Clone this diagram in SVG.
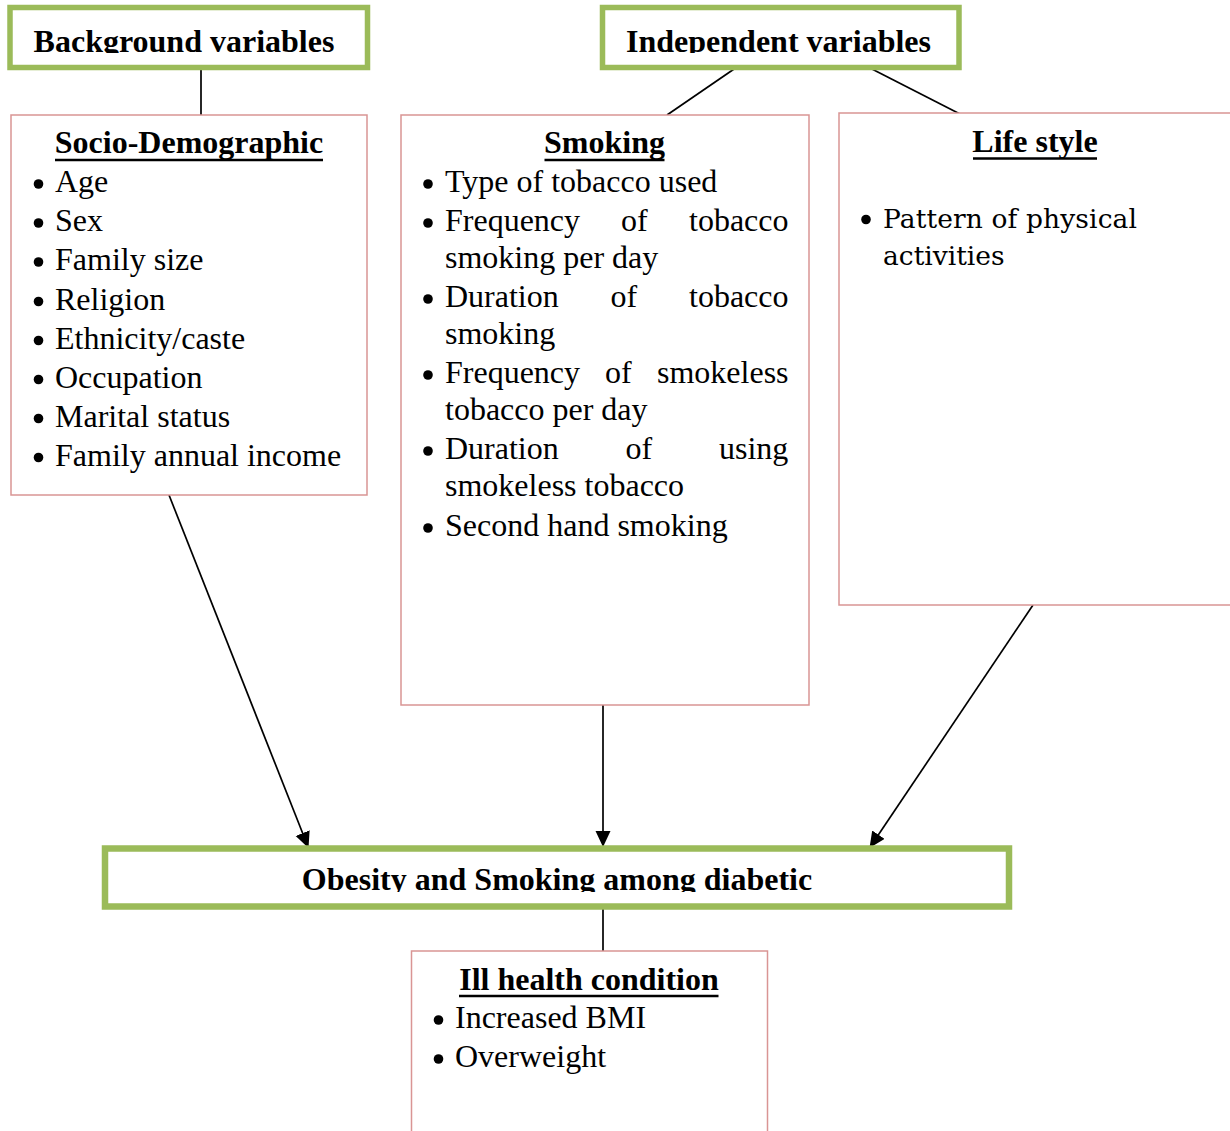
<svg xmlns="http://www.w3.org/2000/svg" width="1230" height="1131" viewBox="0 0 1230 1131">
<style>
.gbox{fill:#fff;stroke:#9bbb59;stroke-width:5.5}
.pbox{fill:#fff;stroke:#d99594;stroke-width:1.5}
.hd{font-family:"Liberation Serif","Times New Roman",serif;font-weight:bold;font-size:32px;fill:#000}
.tx{font-family:"Liberation Serif","Times New Roman",serif;font-size:32px;fill:#000}
.cb{font-family:"DejaVu Serif",serif;font-size:26.5px;fill:#000}
.ul{stroke:#000;stroke-width:2.5}
.bl{fill:#000}
.cn{stroke:#000;stroke-width:1.7;fill:none}
</style>
<defs>
<marker id="ah" markerUnits="userSpaceOnUse" markerWidth="18" markerHeight="18" refX="16" refY="7.5" orient="auto">
<path d="M0,0 L16,7.5 L0,15 z" fill="#000"/>
</marker>
<clipPath id="c1"><rect x="0" y="0" width="1230" height="53"/></clipPath>
<clipPath id="c2"><rect x="0" y="800" width="1230" height="92"/></clipPath>
</defs>

<g id="connectors">
<line class="cn" x1="201" y1="70" x2="201" y2="115"/>
<line class="cn" x1="737" y1="67" x2="667" y2="115"/>
<line class="cn" x1="868" y1="67" x2="960" y2="114"/>
<line class="cn" x1="169" y1="495" x2="308.5" y2="848" marker-end="url(#ah)"/>
<line class="cn" x1="603" y1="705" x2="603" y2="847" marker-end="url(#ah)"/>
<line class="cn" x1="1033" y1="605" x2="869.5" y2="848" marker-end="url(#ah)"/>
<line class="cn" x1="603" y1="909" x2="603" y2="951"/>
</g>

<g id="background">
<rect class="gbox" x="10" y="7.5" width="357.5" height="60"/>
<text class="hd" x="184" y="52" text-anchor="middle" clip-path="url(#c1)">Background variables</text>
</g>

<g id="independent">
<rect class="gbox" x="602.5" y="7.5" width="356.5" height="60"/>
<text class="hd" x="778.5" y="52" text-anchor="middle" clip-path="url(#c1)">Independent variables</text>
</g>

<g id="socio">
<rect class="pbox" x="11" y="115" width="356" height="380"/>
<text class="hd" x="189" y="153" text-anchor="middle">Socio-Demographic</text>
<line class="ul" x1="55" y1="160" x2="323" y2="160"/>
<g class="bl">
<circle cx="38.5" cy="184" r="4.8"/><circle cx="38.5" cy="223" r="4.8"/><circle cx="38.5" cy="262" r="4.8"/><circle cx="38.5" cy="301.5" r="4.8"/>
<circle cx="38.5" cy="340.5" r="4.8"/><circle cx="38.5" cy="379.5" r="4.8"/><circle cx="38.5" cy="418.5" r="4.8"/><circle cx="38.5" cy="457.5" r="4.8"/>
</g>
<text class="tx" x="55" y="192">Age</text>
<text class="tx" x="55" y="231">Sex</text>
<text class="tx" x="55" y="270">Family size</text>
<text class="tx" x="55" y="309.5">Religion</text>
<text class="tx" x="55" y="348.5">Ethnicity/caste</text>
<text class="tx" x="55" y="387.5">Occupation</text>
<text class="tx" x="55" y="426.5">Marital status</text>
<text class="tx" x="55" y="465.5">Family annual income</text>
</g>

<g id="smoking">
<rect class="pbox" x="401" y="115" width="408" height="590"/>
<text class="hd" x="604.5" y="153" text-anchor="middle">Smoking</text>
<line class="ul" x1="544.5" y1="160" x2="664.5" y2="160"/>
<g class="bl">
<circle cx="428" cy="184" r="4.8"/><circle cx="428" cy="223" r="4.8"/><circle cx="428" cy="299" r="4.8"/>
<circle cx="428" cy="375" r="4.8"/><circle cx="428" cy="451" r="4.8"/><circle cx="428" cy="528" r="4.8"/>
</g>
<text class="tx" x="445" y="192">Type of tobacco used</text>
<text class="tx" y="231"><tspan x="445">Frequency</tspan><tspan x="621">of</tspan><tspan x="689">tobacco</tspan></text>
<text class="tx" x="445" y="268">smoking per day</text>
<text class="tx" y="307"><tspan x="445">Duration</tspan><tspan x="610.5">of</tspan><tspan x="689">tobacco</tspan></text>
<text class="tx" x="445" y="344">smoking</text>
<text class="tx" y="383"><tspan x="445">Frequency</tspan><tspan x="605">of</tspan><tspan x="657">smokeless</tspan></text>
<text class="tx" x="445" y="420">tobacco per day</text>
<text class="tx" y="459"><tspan x="445">Duration</tspan><tspan x="625.5">of</tspan><tspan x="719">using</tspan></text>
<text class="tx" x="445" y="496">smokeless tobacco</text>
<text class="tx" x="445" y="536">Second hand smoking</text>
</g>

<g id="lifestyle">
<rect class="pbox" x="839" y="113" width="400" height="492"/>
<text class="hd" x="1035" y="152" text-anchor="middle">Life style</text>
<line class="ul" x1="973" y1="158.5" x2="1097" y2="158.5"/>
<circle class="bl" cx="866" cy="219.5" r="4.8"/>
<text class="cb" x="883" y="228" textLength="254">Pattern of physical</text>
<text class="cb" x="883" y="264.5">activities</text>
</g>

<g id="outcome">
<rect class="gbox" x="105" y="848.5" width="904" height="58" style="stroke-width:6.5"/>
<text class="hd" x="557" y="890" text-anchor="middle" clip-path="url(#c2)">Obesity and Smoking among diabetic</text>
</g>

<g id="illhealth">
<rect class="pbox" x="411.5" y="951" width="356" height="200"/>
<text class="hd" x="589" y="990" text-anchor="middle">Ill health condition</text>
<line class="ul" x1="459" y1="996" x2="718.5" y2="996"/>
<circle class="bl" cx="438.5" cy="1020" r="4.8"/>
<circle class="bl" cx="438.5" cy="1059" r="4.8"/>
<text class="tx" x="455" y="1028">Increased BMI</text>
<text class="tx" x="455" y="1067">Overweight</text>
</g>
</svg>
